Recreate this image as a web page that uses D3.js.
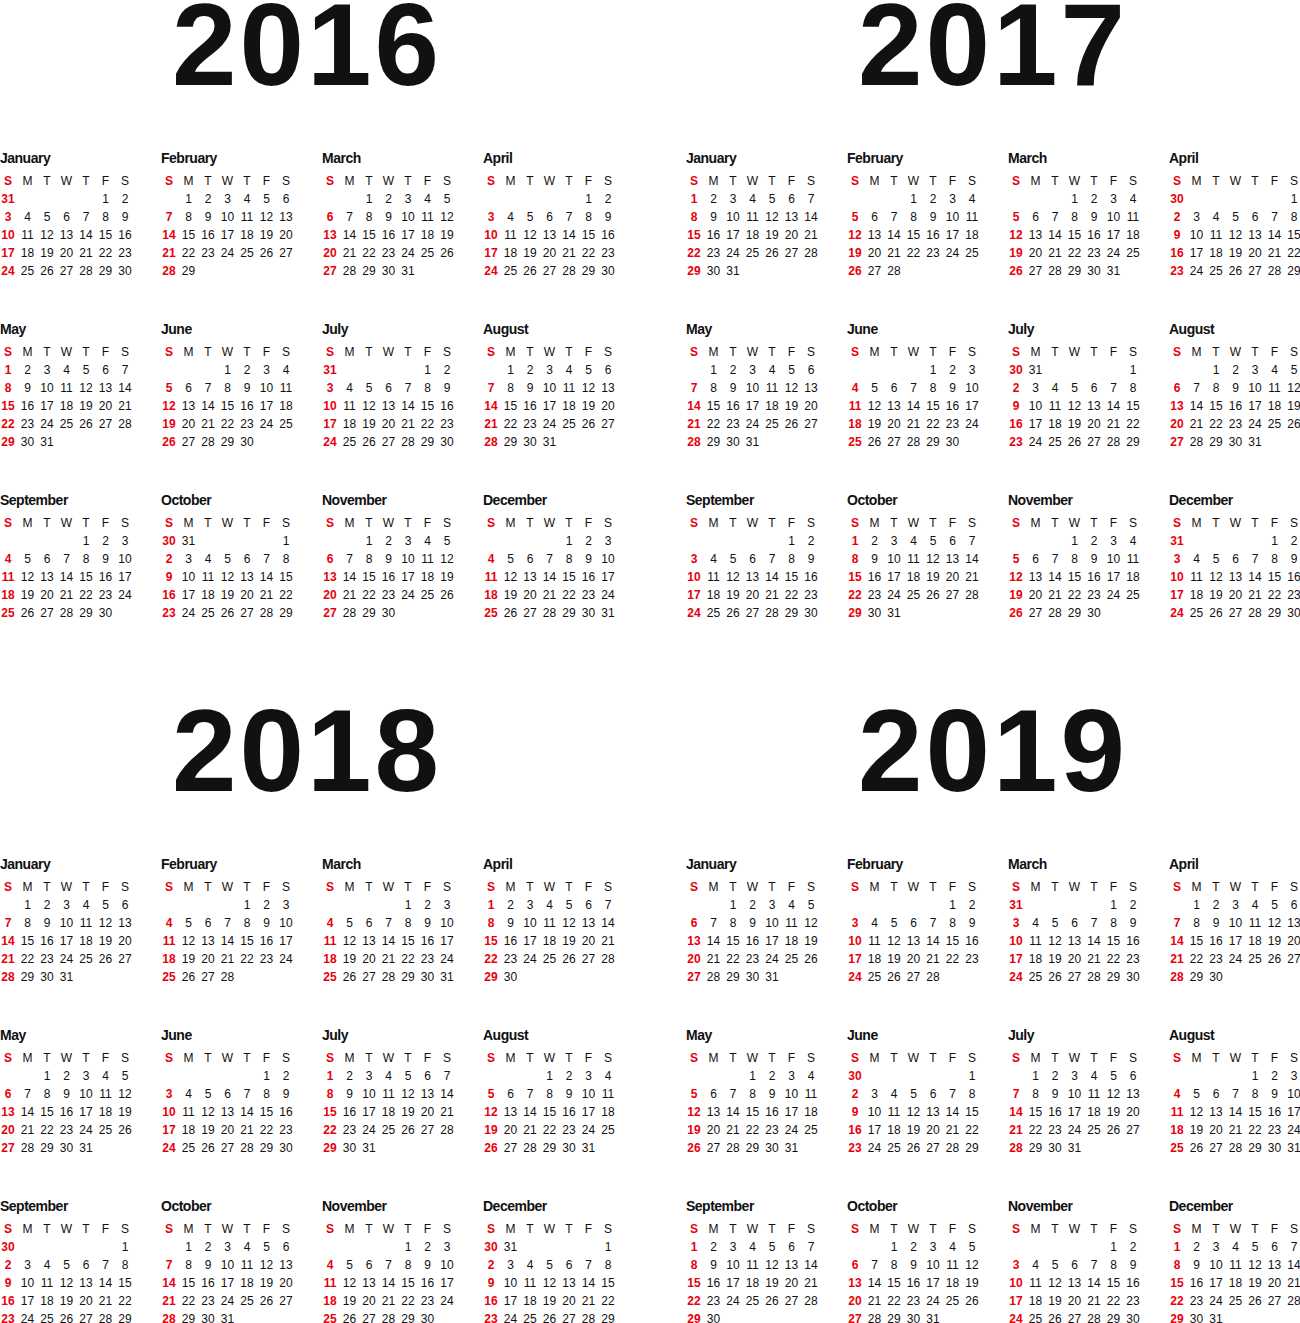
<!DOCTYPE html>
<html>
<head>
<script src="https://d3js.org/d3.v7.min.js"></script>
<style>
  body { margin: 0; background: #fff; }
  text { font-family: "Liberation Sans", Arial, sans-serif; }
</style>
</head>
<body>
<script>
const years = [2016, 2017, 2018, 2019];
const monthNames = ["January", "February", "March", "April", "May", "June",
  "July", "August", "September", "October", "November", "December"];
const weekdayLabels = ["S", "M", "T", "W", "T", "F", "S"];

const width = 1300, height = 1323;
const svg = d3.select("body").append("svg")
  .attr("width", width).attr("height", height);

// layout scales
const yearX = d3.scaleOrdinal().domain([0, 1]).range([0, 686]);
const yearY = d3.scaleOrdinal().domain([0, 1]).range([0, 706]);
const monthCol = d3.scaleLinear().domain([0, 1]).range([0, 161]);
const monthRow = d3.scaleLinear().domain([0, 1]).range([158, 329]);
const dayCol = d3.scaleLinear().domain([0, 6]).range([8, 125]);
const weekRow = d3.scaleLinear().domain([0, 1]).range([198, 216]);

years.forEach((yr, yi) => {
  const g = svg.append("g")
    .attr("transform", `translate(${yearX(yi % 2)},${yearY(Math.floor(yi / 2))})`);

  g.append("text")
    .attr("x", 307).attr("y", 85)
    .attr("text-anchor", "middle")
    .attr("font-size", 116).attr("font-weight", "bold")
    .attr("letter-spacing", 3)
    .attr("fill", "#111")
    .text(yr);

  monthNames.forEach((name, mi) => {
    const mx = monthCol(mi % 4), my = monthRow(Math.floor(mi / 4)) - 158;
    const m = g.append("g").attr("transform", `translate(${mx},${my})`);

    m.append("text")
      .attr("x", 0).attr("y", 163)
      .attr("font-size", 14).attr("font-weight", "bold")
      .attr("letter-spacing", -0.5)
      .attr("fill", "#111")
      .text(name);

    m.selectAll("text.wd").data(weekdayLabels).enter().append("text")
      .attr("class", "wd")
      .attr("x", (d, i) => dayCol(i)).attr("y", 185)
      .attr("text-anchor", "middle")
      .attr("font-size", 12)
      .attr("font-weight", (d, i) => i === 0 ? "bold" : "normal")
      .attr("fill", (d, i) => i === 0 ? "#e8000b" : "#111")
      .text(d => d);

    const days = d3.timeDays(new Date(yr, mi, 1), new Date(yr, mi + 1, 1));
    const firstWeek = d3.timeWeek.count(d3.timeYear(days[0]), days[0]);
    m.selectAll("text.day").data(days).enter().append("text")
      .attr("class", "day")
      .attr("x", d => dayCol(d.getDay()))
      .attr("y", d => {
        let w = d3.timeWeek.count(d3.timeYear(d), d) - firstWeek;
        if (d.getMonth() === 0 && d.getFullYear() !== yr) w = 0;
        if (w > 4) w = 0; // sixth week wraps to the first row
        return weekRow(w) + 5;
      })
      .attr("text-anchor", "middle")
      .attr("font-size", 12)
      .attr("font-weight", d => d.getDay() === 0 ? "bold" : "normal")
      .attr("fill", d => d.getDay() === 0 ? "#e8000b" : "#111")
      .text(d => d.getDate());
  });
});
</script>
</body>
</html>
